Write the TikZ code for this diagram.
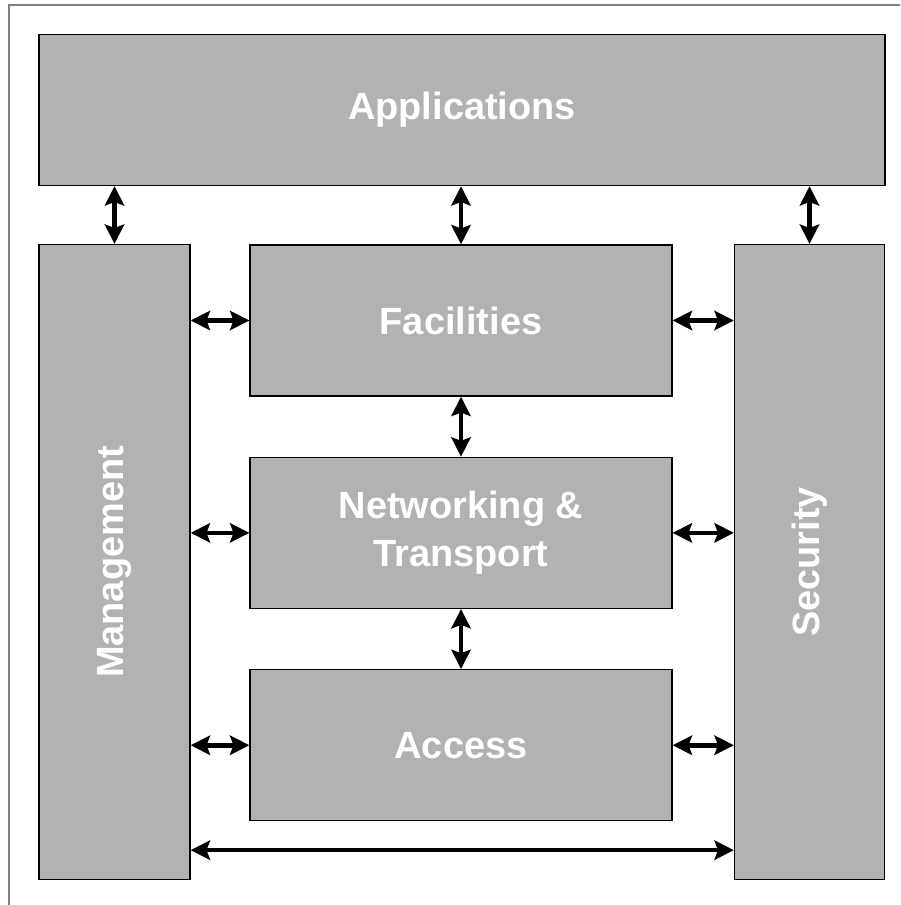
\documentclass[tikz,border=0pt]{standalone}
\usepackage{fontspec}
\setmainfont{Liberation Sans}
\usepackage{tikz}
\usetikzlibrary{positioning,calc,arrows.meta}

\tikzset{
	label/.style={text=white, align=center, font=\bfseries\fontsize{21.6}{27.3}\selectfont},
	block/.style={label, draw=black, line width=0.8pt, fill=black!30},
	link/.style={{Stealth[length=11pt,width=11pt,inset=2pt]}-{Stealth[length=11pt,width=11pt,inset=2pt]}, line width=2.6pt},
}

\begin{document}
\begin{tikzpicture}[x=0.02cm,y=-0.02cm]
		\useasboundingbox (0,0) rectangle (900,905);
		\draw[gray, line width=0.6pt] (9,905)--(9,5)--(900,5);
		
		\node[block, minimum width=16.92cm, minimum height=3.02cm] (app) at (462,110) {Applications};
		\node[block, minimum width=3.02cm, minimum height=12.7cm] (mgmt) at (114.5,562) {};
		\node[label, rotate=90] (mgmtt) at (mgmt.center) {Management};
		\node[block, minimum width=3cm, minimum height=12.7cm] (sec) at (809.5,562) {};
		\node[label, rotate=90] (sect) at (sec.center) {Security};
		\node[block, minimum width=8.44cm, minimum height=3.02cm] (fac) at (461,320.5) {Facilities};
		\node[block, minimum width=8.44cm, minimum height=3.02cm, below=1.2cm of fac] (net) {Networking \&\\Transport};
		\node[block, minimum width=8.44cm, minimum height=3.02cm, below=1.2cm of net] (acc) {Access};
		
		\draw[link] (app.south -| mgmt.north) -- (mgmt.north);
		\draw[link] (app.south -| fac.north) -- (fac.north);
		\draw[link] (app.south -| sec.north) -- (sec.north);
		\draw[link] (fac.south) -- (net.north);
		\draw[link] (net.south) -- (acc.north);
		\foreach \b in {fac,net,acc} {
			\draw[link] (\b.west -| mgmt.east) -- (\b.west);
			\draw[link] (\b.east) -- (\b.east -| sec.west);
		}
		\draw[link] ([yshift=0.6cm]mgmt.south east) -- ([yshift=0.6cm]sec.south west);
	\end{tikzpicture}
\end{document}
